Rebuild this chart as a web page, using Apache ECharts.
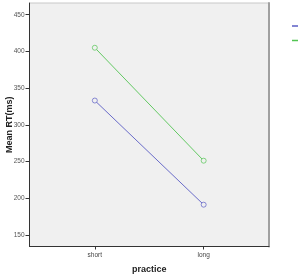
<!DOCTYPE html>
<html><head><meta charset="utf-8">
<script src="https://cdn.jsdelivr.net/npm/echarts@6/dist/echarts.min.js"></script>
<style>html,body{margin:0;padding:0;background:#fff}#c{width:298px;height:280px}</style>
</head><body><div id="c"></div>
<script>
const categories = ["short", "long"];
const seriesNames = ["Group 1", "Group 2"];
const blueValues = [333, 191];
const greenValues = [405, 251];
const yTicks = [150, 200, 250, 300, 350, 400, 450];
const colors = ['#5a5cc4', '#52c452'];

const chart = echarts.init(document.getElementById('c'), null, {renderer: 'canvas'});
const toPts = vals => vals.map((v, i) => [i, v]);
chart.setOption({
  animation: false,
  backgroundColor: '#fff',
  grid: {left: 29.5, right: 29, top: 3, bottom: 33.5, show: true, backgroundColor: '#f0f0f0', borderColor: '#c8c8c8', borderWidth: 1, containLabel: false, outerBoundsMode: 'none'},
  legend: {
    left: 292, top: 22, padding: 0, orient: 'vertical', itemGap: 6.5, itemWidth: 12, itemHeight: 1.5,
    icon: 'rect',
    textStyle: {fontSize: 8, color: '#333'},
    data: seriesNames.map((n, i) => ({name: n, itemStyle: {color: colors[i], borderWidth: 0}}))
  },
  xAxis: [{
    type: 'value', min: -0.6, max: 1.6,
    name: 'practice', nameLocation: 'middle', nameGap: 19, nameMoveOverlap: false,
    nameTextStyle: {fontFamily: 'Liberation Sans', fontWeight: 'bold', fontSize: 9, color: '#222'},
    axisLine: {show: true, onZero: false, lineStyle: {color: '#333', width: 1}},
    axisTick: {show: true, length: 3, lineStyle: {color: '#333'}, customValues: [0, 1]},
    axisLabel: {fontSize: 6.5, color: '#444', margin: 5, fontFamily: 'Liberation Sans', customValues: [0, 1], formatter: v => categories[v]},
    splitLine: {show: false}
  }],
  yAxis: [{
    type: 'value', min: 134, max: 466, position: 'left',
    name: 'Mean RT(ms)', nameLocation: 'middle', nameGap: 15.5, nameRotate: 90, nameMoveOverlap: false,
    nameTextStyle: {fontFamily: 'Liberation Sans', fontWeight: 'bold', fontSize: 9, color: '#222'},
    axisLine: {show: true, onZero: false, lineStyle: {color: '#333', width: 1}},
    axisTick: {show: true, length: 4, lineStyle: {color: '#333'}, customValues: yTicks},
    axisLabel: {fontSize: 6.5, color: '#555', margin: 5, fontFamily: 'Liberation Sans', customValues: yTicks},
    splitLine: {show: false}
  }, {
    type: 'value', min: 134, max: 466, position: 'right',
    axisLine: {show: true, onZero: false, lineStyle: {color: '#a0a0a0', width: 2}},
    axisTick: {show: false}, axisLabel: {show: false}, splitLine: {show: false}
  }],
  series: [{
    name: seriesNames[0], type: 'line', data: toPts(blueValues),
    symbol: 'circle', symbolSize: 5,
    lineStyle: {color: colors[0], width: 0.9},
    itemStyle: {color: '#f0f0f0', borderColor: colors[0], borderWidth: 0.7}
  }, {
    name: seriesNames[1], type: 'line', data: toPts(greenValues),
    symbol: 'circle', symbolSize: 5,
    lineStyle: {color: colors[1], width: 0.9},
    itemStyle: {color: '#f0f0f0', borderColor: colors[1], borderWidth: 0.7}
  }]
});
</script></body></html>
